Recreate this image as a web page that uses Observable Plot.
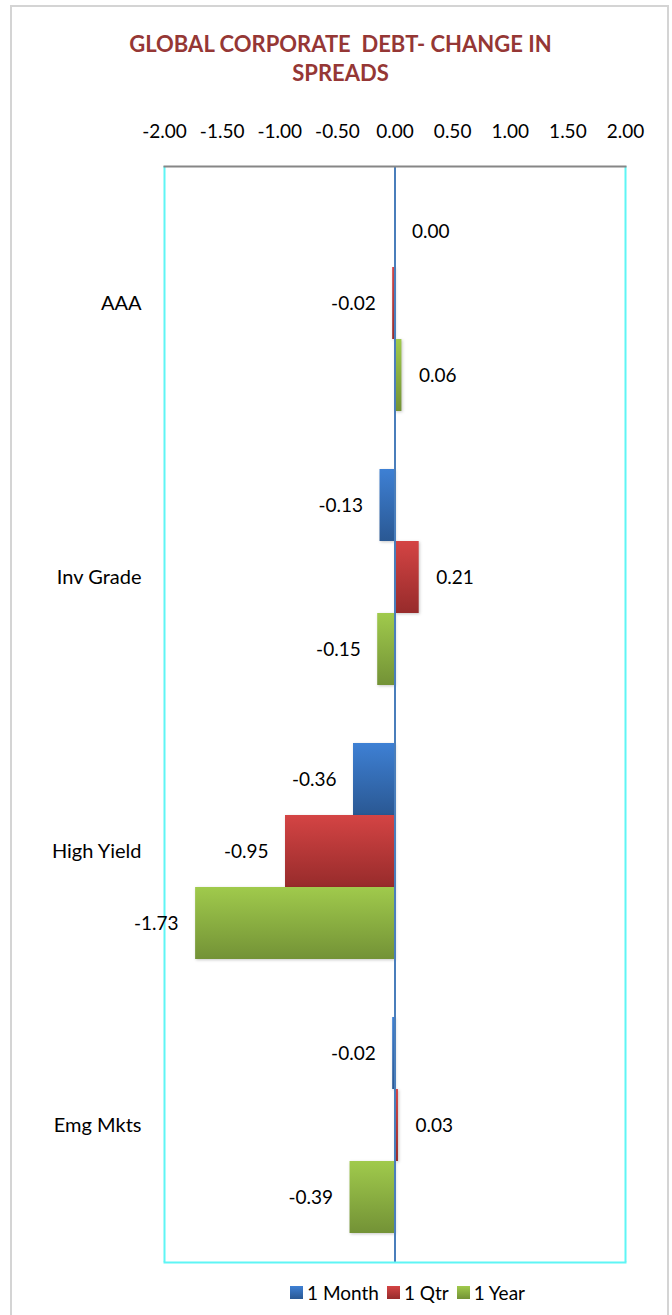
<!DOCTYPE html>
<html>
<head>
<meta charset="utf-8">
<script src="https://cdn.jsdelivr.net/npm/d3@7"></script>
<script src="https://cdn.jsdelivr.net/npm/@observablehq/plot@0.6"></script>
<style>
  html, body { margin: 0; padding: 0; background: #fff; }
  body { width: 672px; height: 1315px; position: relative; overflow: hidden; font-family: Lato, "Open Sans", sans-serif; }
  #border { position: absolute; left: 10px; top: 5px; width: 659px; height: 1340px; border: 2px solid #d4d4d4; box-sizing: border-box; }
  #title { position: absolute; left: 0; top: 29px; width: 681px; text-align: center; color: #953735; font-weight: bold; font-size: 22px; line-height: 29px; }
  #chart { position: absolute; left: 0; top: 0; }
  #legend { position: absolute; left: 290px; top: 1281px; display: flex; align-items: center; font-size: 19px; color: #000; }
  #legend .item { display: flex; align-items: center; margin-right: 8px; }
  #legend .sw { width: 13px; height: 13px; margin-right: 4px; }
  g[aria-label="bar"] rect { filter: drop-shadow(1.5px 1.5px 1.5px rgba(0,0,0,0.22)); }
  g[aria-label="fy-axis tick label"] text { font-size: 20px; }
</style>
</head>
<body>
<div id="border"></div>
<div id="title">GLOBAL CORPORATE&nbsp; DEBT- CHANGE IN<br>SPREADS</div>
<div id="chart"></div>
<div id="legend"></div>
<script>
const categories = ["AAA", "Inv Grade", "High Yield", "Emg Mkts"];
const seriesNames = ["1 Month", "1 Qtr", "1 Year"];
const month = [0.00, -0.13, -0.36, -0.02];
const qtr = [-0.02, 0.21, -0.95, 0.03];
const year = [0.06, -0.15, -1.73, -0.39];
const xTicks = [-2, -1.5, -1, -0.5, 0, 0.5, 1, 1.5, 2];
const gradients = [
  ["#3e80d4", "#2a5893"],
  ["#d44444", "#972b2b"],
  ["#a0ca4c", "#739236"]
];

const seriesValues = [month, qtr, year];
const rows = [];
categories.forEach((c, ci) => {
  seriesNames.forEach((s, si) => {
    rows.push({cat: c, series: s, si, value: seriesValues[si][ci]});
  });
});

const fmt = d => d.toFixed(2);
const cyan = "#5ff5f5";

const barMarks = seriesNames.map((s, si) =>
  Plot.barX(rows.filter(d => d.si === si), {
    x: "value", y: "series", fy: "cat", fill: `url(#grad${si})`
  })
);

const svg = Plot.plot({
  width: 672,
  height: 1280,
  marginTop: 165,
  marginBottom: 18,
  marginLeft: 164,
  marginRight: 47,
  style: {fontFamily: "Lato, 'Open Sans', sans-serif", fontSize: "19px", color: "#000", background: "transparent", overflow: "visible"},
  x: {domain: [-2, 2], axis: "top", ticks: xTicks, tickFormat: fmt, tickSize: 0, tickPadding: 29, label: null},
  y: {domain: seriesNames, paddingInner: 0, paddingOuter: 0.378, axis: null},
  fy: {domain: categories, padding: 0, axis: "left", tickSize: 0, tickPadding: 23, label: null},
  marks: [
    ...barMarks,
    Plot.ruleX([-2, 2], {stroke: cyan, strokeWidth: 2}),
    Plot.ruleX([0], {stroke: "#4a7ebb", strokeWidth: 2}),
    Plot.frame({anchor: "top", stroke: "#868686", strokeWidth: 2, fy: [categories[0]]}),
    Plot.frame({anchor: "bottom", stroke: cyan, strokeWidth: 2, fy: [categories[categories.length - 1]]}),
    Plot.text(rows.filter(d => d.value >= 0), {x: "value", y: "series", fy: "cat", text: d => fmt(d.value), textAnchor: "start", dx: 17, fill: "#000"}),
    Plot.text(rows.filter(d => d.value < 0), {x: "value", y: "series", fy: "cat", text: d => fmt(d.value), textAnchor: "end", dx: -17, fill: "#000"})
  ]
});

const defs = d3.select(svg).insert("defs", ":first-child");
gradients.forEach((g, i) => {
  const lg = defs.append("linearGradient").attr("id", `grad${i}`).attr("x1", 0).attr("y1", 0).attr("x2", 0).attr("y2", 1);
  lg.append("stop").attr("offset", "0%").attr("stop-color", g[0]);
  lg.append("stop").attr("offset", "100%").attr("stop-color", g[1]);
});
document.getElementById("chart").appendChild(svg);

const legend = d3.select("#legend");
seriesNames.forEach((s, i) => {
  const it = legend.append("div").attr("class", "item");
  it.append("div").attr("class", "sw").style("background", `linear-gradient(${gradients[i][0]}, ${gradients[i][1]})`);
  it.append("span").text(s);
});
</script>
</body>
</html>
